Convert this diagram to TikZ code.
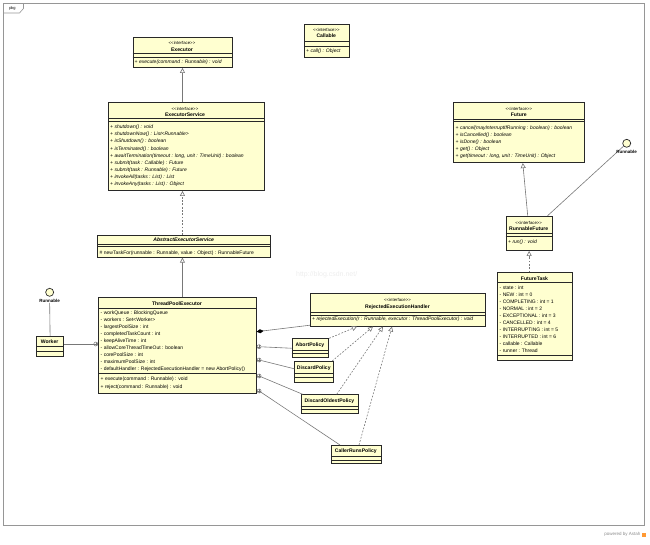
\documentclass[tikz,border=0pt]{standalone}
\usepackage{fontspec}
\setmainfont{Liberation Sans}[Ligatures=TeXOff]
\usetikzlibrary{arrows.meta,calc}
\definecolor{boxfill}{RGB}{255,255,208}
\definecolor{boxline}{RGB}{40,40,40}
\definecolor{connc}{RGB}{120,120,120}
\definecolor{framec}{RGB}{150,150,150}
\begin{document}
\begin{tikzpicture}[x=1pt,y=-1pt,
  umlbox/.style={draw=boxline, fill=boxfill, line width=0.9pt, inner sep=0, anchor=north west},
  sepl/.style={draw=boxline, line width=0.6pt},
  stereo/.style={font=\fontsize{4.3}{5}\selectfont, inner sep=0},
  cname/.style={font=\fontsize{5.1}{6}\bfseries\selectfont, inner sep=0},
  members/.style={font=\fontsize{5}{7}\selectfont, inner sep=0, anchor=north west, align=left},
  imembers/.style={members, font=\fontsize{5}{7}\itshape\selectfont},
  conn/.style={draw=connc, line width=0.6pt},
  gen/.style={conn, -{Triangle[length=5pt,width=5pt,fill=white]}},
  real/.style={gen, dash pattern=on 1.8pt off 1.5pt},
  comp/.style={conn, -{Diamond[length=7pt,width=4pt,color=black]}},
  nest/.style={circle, draw=connc, fill=white, line width=0.5pt, minimum size=4pt, inner sep=0,
    path picture={\draw[connc, line width=0.4pt] (path picture bounding box.north) -- (path picture bounding box.south) (path picture bounding box.west) -- (path picture bounding box.east);}},
  lolli/.style={circle, draw=boxline, fill=boxfill, line width=0.7pt, minimum size=8pt, inner sep=0},
  lollilab/.style={font=\fontsize{4.5}{5}\bfseries\selectfont, inner sep=0.3pt},
]
\useasboundingbox (0,0) rectangle (650,545);

% frame
\draw[framec, line width=0.6pt] (3.5,3.5) rectangle (644,525);
\draw[framec, line width=0.6pt] (3.5,13) -- (19.5,13) -- (23.5,8.5) -- (23.5,3.5);
\node[font=\fontsize{4}{5}\selectfont, inner sep=0] (pkg) at (12.5,8.5) {pkg};
\node[font=\fontsize{7}{8}\selectfont, text=black!7, inner sep=0] (wm) at (326.7,275) {http://blog.csdn.net/};
\node[font=\fontsize{4.5}{5}\selectfont, text=black!45, anchor=east, inner sep=0] (pw) at (640.5,534.7) {powered by Astah};
\fill[orange!80] (642,532.5) rectangle (646,536.7);

% Executor
\node[umlbox, minimum width=99pt, minimum height=30pt] (exec) at (132.5,37) {};
\draw[sepl] (132.5,53.5) -- (231.5,53.5) (132.5,57) -- (231.5,57);
\node[stereo] (execS) at (182,43.3) {<<interface>>};
\node[cname] (execN) at (182,49.5) {Executor};
\node[imembers] (execM) at (134.5,59.6) {+ execute(command : Runnable) : void};

% Callable
\node[umlbox, minimum width=44.5pt, minimum height=32.7pt] (call) at (304,24) {};
\draw[sepl] (304,41.7) -- (348.5,41.7) (304,46) -- (348.5,46);
\node[stereo] (callS) at (326.3,30) {<<interface>>};
\node[cname] (callN) at (326.3,35.7) {Callable};
\node[imembers] (callM) at (306,48.3) {+ call() : Object};

% ExecutorService
\node[umlbox, minimum width=156pt, minimum height=88.3pt] (es) at (108,101.7) {};
\draw[sepl] (108,118.3) -- (264,118.3) (108,121) -- (264,121);
\node[stereo] (esS) at (185,109) {<<interface>>};
\node[cname] (esN) at (185,114.3) {ExecutorService};
\node[imembers, font=\fontsize{5}{7.1}\itshape\selectfont] (esM) at (110,124.9) {+ shutdown() : void\\+ shutdownNow() : List<Runnable>\\+ isShutdown() : boolean\\+ isTerminated() : boolean\\+ awaitTermination(timeout : long, unit : TimeUnit) : boolean\\+ submit(task : Callable) : Future\\+ submit(task : Runnable) : Future\\+ invokeAll(tasks : List) : List\\+ invokeAny(tasks : List) : Object};

% AbstractExecutorService
\node[umlbox, minimum width=172.7pt, minimum height=21.7pt] (aes) at (97.3,235) {};
\draw[sepl] (97.3,244) -- (270,244) (97.3,246.7) -- (270,246.7);
\node[cname, font=\fontsize{5.1}{6}\bfseries\itshape\selectfont] (aesN) at (183.7,240) {AbstractExecutorService};
\node[members] (aesM) at (99.5,250.9) {\# newTaskFor(runnable : Runnable, value : Object) : RunnableFuture};

% ThreadPoolExecutor
\node[umlbox, minimum width=157.4pt, minimum height=96pt] (tpe) at (98.3,297.3) {};
\draw[sepl] (98.3,308.3) -- (255.7,308.3) (98.3,373.3) -- (255.7,373.3);
\node[cname] (tpeN) at (177,303.3) {ThreadPoolExecutor};
\node[members] (tpeA) at (100.5,310.9) {- workQueue : BlockingQueue\\- workers : Set<Worker>\\- largestPoolSize : int\\- completedTaskCount : int\\- keepAliveTime : int\\- allowCoreThreadTimeOut : boolean\\- corePoolSize : int\\- maximumPoolSize : int\\- defaultHandler : RejectedExecutionHandler = new AbortPolicy()};
\node[members, font=\fontsize{5}{7.4}\selectfont] (tpeM) at (100.5,376.9) {+ execute(command : Runnable) : void\\+ reject(command : Runnable) : void};

% Future
\node[umlbox, minimum width=131pt, minimum height=60.5pt] (fut) at (453.3,101.7) {};
\draw[sepl] (453.3,119) -- (584.3,119) (453.3,121.7) -- (584.3,121.7);
\node[stereo] (futS) at (518.8,109) {<<interface>>};
\node[cname] (futN) at (518.8,114.3) {Future};
\node[imembers, font=\fontsize{5}{6.85}\itshape\selectfont] (futM) at (455.5,125.9) {+ cancel(mayInterruptIfRunning : boolean) : boolean\\+ isCancelled() : boolean\\+ isDone() : boolean\\+ get() : Object\\+ get(timeout : long, unit : TimeUnit) : Object};

% RunnableFuture
\node[umlbox, minimum width=46pt, minimum height=34.3pt] (rf) at (505.7,215.7) {};
\draw[sepl] (505.7,233.3) -- (551.7,233.3) (505.7,236.7) -- (551.7,236.7);
\node[stereo] (rfS) at (528.7,222.7) {<<interface>>};
\node[cname] (rfN) at (528.7,228.3) {RunnableFuture};
\node[imembers] (rfM) at (508,239.3) {+ run() : void};

% FutureTask
\node[umlbox, minimum width=74.4pt, minimum height=87.7pt] (ft) at (497.3,272.3) {};
\draw[sepl] (497.3,282.3) -- (571.7,282.3) (497.3,355) -- (571.7,355);
\node[cname] (ftN) at (534.5,278.3) {FutureTask};
\node[members, font=\fontsize{5}{7.03}\selectfont] (ftA) at (499.5,285.3) {- state : int\\- NEW : int = 0\\- COMPLETING : int = 1\\- NORMAL : int = 2\\- EXCEPTIONAL : int = 3\\- CANCELLED : int = 4\\- INTERRUPTING : int = 5\\- INTERRUPTED : int = 6\\- callable : Callable\\- runner : Thread};

% RejectedExecutionHandler
\node[umlbox, minimum width=175pt, minimum height=32.4pt] (reh) at (310,293.3) {};
\draw[sepl] (310,312.3) -- (485,312.3) (310,315) -- (485,315);
\node[stereo] (rehS) at (397.5,300) {<<interface>>};
\node[cname] (rehN) at (397.5,306.7) {RejectedExecutionHandler};
\node[imembers] (rehM) at (312,316.9) {+ rejectedExecution(r : Runnable, executor : ThreadPoolExecutor) : void};

% Policies
\node[umlbox, minimum width=36.6pt, minimum height=19pt] (abort) at (291.7,338.3) {};
\draw[sepl] (291.7,350) -- (328.3,350) (291.7,353.5) -- (328.3,353.5);
\node[cname] (abortN) at (310,345) {AbortPolicy};

\node[umlbox, minimum width=39pt, minimum height=20.7pt] (discard) at (294.3,361) {};
\draw[sepl] (294.3,373.5) -- (333.3,373.5) (294.3,377.5) -- (333.3,377.5);
\node[cname] (discardN) at (313.8,367.7) {DiscardPolicy};

\node[umlbox, minimum width=57.6pt, minimum height=19pt] (dop) at (300.7,394.3) {};
\draw[sepl] (300.7,406) -- (358.3,406) (300.7,409.5) -- (358.3,409.5);
\node[cname] (dopN) at (329.5,401) {DiscardOldestPolicy};

\node[umlbox, minimum width=49.7pt, minimum height=18.3pt] (crp) at (331,445) {};
\draw[sepl] (331,456.5) -- (380.7,456.5) (331,460) -- (380.7,460);
\node[cname] (crpN) at (355.85,451) {CallerRunsPolicy};

% Worker
\node[umlbox, minimum width=27.3pt, minimum height=20pt] (worker) at (36,336) {};
\draw[sepl] (36,346.5) -- (63.3,346.5) (36,351) -- (63.3,351);
\node[cname] (workerN) at (49.65,341.7) {Worker};

% Runnable lollipops
\node[lolli] (runL) at (49.65,292.3) {};
\node[lollilab] (runLlab) at (49.65,300.7) {Runnable};
\node[lolli] (runR) at (626.7,143.3) {};

% connectors
\draw[gen] (es.north -| exec.south) -- (exec.south);
\draw[real] (aes.north -| exec.south) -- (es.south -| exec.south);
\draw[gen] (tpe.north -| exec.south) -- (aes.south -| exec.south);
\draw[gen] ([xshift=22pt]rf.north west) -- ([xshift=69.5pt]fut.south west);
\draw[conn] ([xshift=-5pt]rf.north east) -- (runR);
\node[lollilab] (runRlab) at (626.7,151.7) {Runnable};
\draw[real] (ft.north -| rf.south) -- (rf.south);
\draw[conn] (worker.north) -- (runLlab.south);

\node[nest] (nw) at ([xshift=-2.5pt,yshift=-46.7pt]tpe.north west) {};
\draw[conn] (worker.east |- nw) -- (nw);

\draw[comp] ([yshift=1.4pt]reh.south west) -- ([yshift=-34.4pt]tpe.north east);

\node[nest] (n1) at ([xshift=2.5pt,yshift=-49.4pt]tpe.north east) {};
\node[nest] (n2) at ([xshift=2.5pt,yshift=-62.7pt]tpe.north east) {};
\node[nest] (n3) at ([xshift=2.5pt,yshift=-78.7pt]tpe.north east) {};
\node[nest] (n4) at ([xshift=2.5pt,yshift=-93.7pt]tpe.north east) {};
\draw[conn] (n1) -- (abort.west);
\draw[conn] (n2) -- ([yshift=3pt]discard.west);
\draw[conn] (n3) -- ([xshift=2pt]dop.north west);
\draw[conn] (n4) -- ([xshift=9pt]crp.north west);

\draw[real] (abort.north east) -- ([xshift=47pt]reh.south west);
\draw[real] ([xshift=-2pt]discard.north east) -- ([xshift=63pt]reh.south west);
\draw[real] ([xshift=36pt]dop.north west) -- ([xshift=73pt]reh.south west);
\draw[real] ([xshift=28pt]crp.north west) -- ([xshift=82pt]reh.south west);
\end{tikzpicture}
\end{document}
